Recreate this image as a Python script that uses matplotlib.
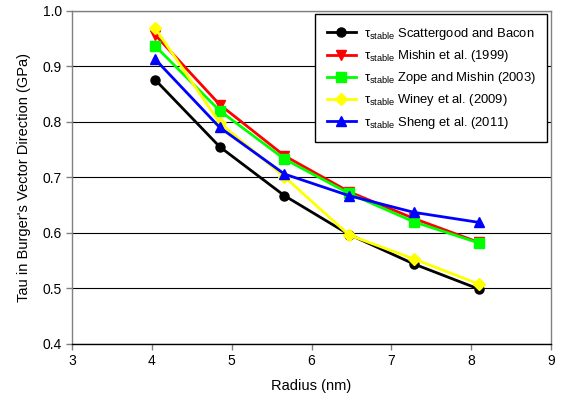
import matplotlib
matplotlib.use("Agg")
import matplotlib.pyplot as plt

plt.rcParams['font.family'] = ['Liberation Sans', 'DejaVu Sans']
plt.rcParams['mathtext.fontset'] = 'custom'
plt.rcParams['mathtext.rm'] = 'Liberation Sans'
plt.rcParams['mathtext.it'] = 'Liberation Sans'

# Radius values (nm)
radius = [4.04, 4.85, 5.66, 6.47, 7.28, 8.09]

# Tau values (GPa) for each potential
scattergood = [0.876, 0.755, 0.667, 0.597, 0.544, 0.499]
mishin = [0.957, 0.831, 0.739, 0.674, 0.626, 0.583]
zope = [0.937, 0.820, 0.733, 0.671, 0.620, 0.582]
winey = [0.969, 0.798, 0.701, 0.596, 0.553, 0.508]
sheng = [0.913, 0.790, 0.706, 0.667, 0.637, 0.619]

labels = ["Scattergood and Bacon", "Mishin et al. (1999)", "Zope and Mishin (2003)",
          "Winey et al. (2009)", "Sheng et al. (2011)"]
series = [scattergood, mishin, zope, winey, sheng]
colors = ['#000000', '#FF0000', '#00FF00', '#FFFF00', '#0000FF']
markers = ['o', 'v', 's', 'D', '^']

fig = plt.figure(figsize=(5.63, 4.05), dpi=100)
ax = fig.add_axes([0.128, 0.151, 0.851, 0.822])

for ys, lab, c, m in zip(series, labels, colors, markers):
    ax.plot(radius, ys, color=c, marker=m, markersize=6.5, linewidth=2,
            label=r'$\tau_{\mathrm{stable}}$ ' + lab)

ax.set_xlim(3, 9)
ax.set_ylim(0.4, 1.0)
ax.set_xticks(range(3, 10))
yticks = [0.4, 0.5, 0.6, 0.7, 0.8, 0.9, 1.0]
ax.set_yticks(yticks)
ax.set_yticklabels([f'{v:.1f}' for v in yticks])
ax.yaxis.grid(True, color='#000000', linewidth=0.8)
ax.set_axisbelow(True)
ax.tick_params(direction='out', length=4, width=1, color='#808080', labelsize=10)

for side, sp in ax.spines.items():
    sp.set_color('#808080')
    sp.set_linewidth(1)
ax.spines['bottom'].set_color('#000000')

ax.set_xlabel('Radius (nm)', fontsize=10.5, labelpad=8)
ax.set_ylabel("Tau in Burger's Vector Direction (GPa)", fontsize=10.5, labelpad=8)

leg = ax.legend(loc='upper right', fontsize=9.4, frameon=True, fancybox=False,
                handlelength=2.2, handletextpad=0.6, borderpad=0.9,
                labelspacing=0.47, borderaxespad=0,
                bbox_to_anchor=(0.992, 0.990))
leg.get_frame().set_edgecolor('#000000')
leg.get_frame().set_linewidth(1)
leg.get_frame().set_alpha(1)

fig.savefig('out.png', dpi=100)
